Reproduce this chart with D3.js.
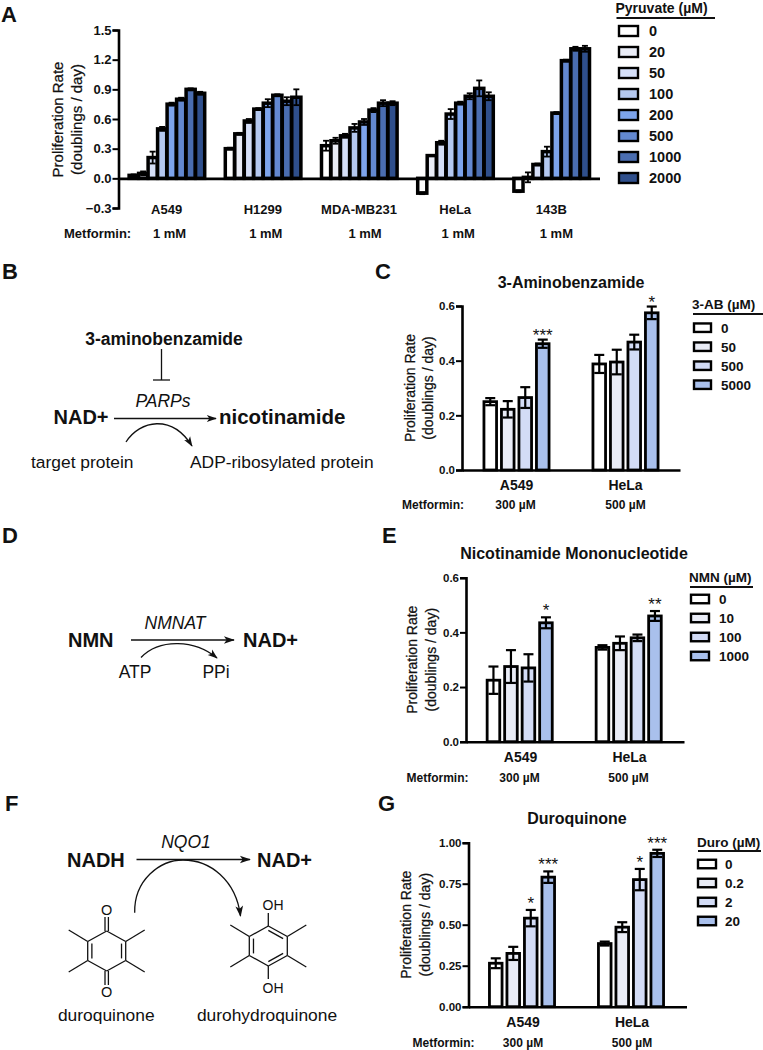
<!DOCTYPE html>
<html><head><meta charset="utf-8">
<script src="https://cdn.jsdelivr.net/npm/d3@7/dist/d3.min.js"></script>
<style>
html,body{margin:0;padding:0;background:#fff}
svg{display:block}
text{font-family:"Liberation Sans",Arial,sans-serif;fill:#111}
</style></head><body>
<svg id="c" width="763" height="1050"></svg>
<script>
// ---------- data ----------
const cellsA = ["A549","H1299","MDA-MB231","HeLa","143B"];
const pyruvate = ["0","20","50","100","200","500","1000","2000"];
const pyruvateColors = ["#ffffff","#e9ecf6","#d5dff8","#b4c8f0","#7da4ec","#6388d0","#4a6db0","#2f4f8c"];
const valuesA = [
  [0.03,0.05,0.21,0.50,0.75,0.80,0.90,0.86],
  [0.30,0.45,0.58,0.70,0.76,0.84,0.78,0.82],
  [0.33,0.38,0.43,0.51,0.57,0.69,0.76,0.76],
  [-0.15,0.23,0.36,0.65,0.76,0.83,0.91,0.83],
  [-0.13,0.01,0.14,0.27,0.66,1.19,1.31,1.31]];
const errorsA = [
  [0.01,0.02,0.06,0.02,0.015,0.015,0.01,0.015],
  [0.01,0.01,0.02,0.01,0.04,0.01,0.04,0.08],
  [0.05,0.03,0.02,0.04,0.03,0.02,0.03,0.02],
  [0.01,0.005,0.02,0.05,0.015,0.03,0.08,0.04],
  [0.01,0.05,0.01,0.05,0.01,0.01,0.02,0.03]];
const ticksA = [-0.3,0,0.3,0.6,0.9,1.2,1.5];
const metA = ["1 mM","1 mM","1 mM","1 mM","1 mM"];

const cells = ["A549","HeLa"];
const met = ["300 µM","500 µM"];
const fourColors = ["#ffffff","#e9ecf6","#d3dcf6","#a9c0ec"];

const doseC = ["0","50","500","5000"];
const valuesC = [[0.25,0.222,0.265,0.462],[0.388,0.395,0.468,0.575]];
const errorsC = [[0.013,0.03,0.038,0.015],[0.033,0.045,0.027,0.023]];
const starsC = [["","","","***"],["","","","*"]];
const ticksC = [0,0.2,0.4,0.6];

const doseE = ["0","10","100","1000"];
const valuesE = [[0.225,0.275,0.27,0.435],[0.345,0.36,0.38,0.46]];
const errorsE = [[0.05,0.06,0.05,0.02],[0.008,0.025,0.012,0.018]];
const starsE = [["","","","*"],["","","","**"]];
const ticksE = [0,0.2,0.4,0.6];

const doseG = ["0","0.2","2","20"];
const valuesG = [[0.265,0.325,0.54,0.79],[0.385,0.485,0.775,0.935]];
const errorsG = [[0.03,0.04,0.05,0.035],[0.012,0.03,0.065,0.022]];
const starsG = [["","","*","***"],["","","*","***"]];
const ticksG = [0,0.25,0.5,0.75,1];

// ---------- helpers ----------
const svg = d3.select("#c");
const defs = svg.append("defs");
function headMarker(id,s){
  defs.append("marker").attr("id",id).attr("viewBox","-1 -6 14 12")
    .attr("refX",11).attr("refY",0).attr("markerWidth",s*14/12).attr("markerHeight",s)
    .attr("markerUnits","userSpaceOnUse").attr("orient","auto")
    .append("path").attr("d","M0,-4.2 L12,0 L0,4.2 L3,0 Z").attr("fill","#111");
}
headMarker("h1",10); headMarker("h2",11);

function text(x,y,s,o={}){
  const t = svg.append("text").attr("x",x).attr("y",y).text(s)
    .attr("font-size",o.size||13).attr("font-weight",o.weight||"normal");
  if(o.anchor) t.attr("text-anchor",o.anchor);
  if(o.italic) t.attr("font-style","italic");
  return t;
}
const bold = (x,y,s,size,anchor)=>text(x,y,s,{size,weight:"bold",anchor});
function seg(x1,y1,x2,y2,w=1.3,marker){
  const l = svg.append("line").attr("x1",x1).attr("y1",y1).attr("x2",x2).attr("y2",y2)
    .attr("stroke","#111").attr("stroke-width",w);
  if(marker) l.attr("marker-end",`url(#${marker})`);
}
function curve(d,marker){
  svg.append("path").attr("d",d).attr("fill","none").attr("stroke","#111").attr("stroke-width",1.3)
    .attr("marker-end",`url(#${marker})`);
}

function panel(p){
  const y = d3.scaleLinear().domain(p.domain).range(p.yRange);
  const x0 = d3.scaleBand().domain(p.groups).range(p.xRange);
  const x1 = d3.scaleBand().domain(p.dose).range([-p.inner/2,p.inner/2]).paddingInner(p.padInner);
  const color = d3.scaleOrdinal().domain(p.dose).range(p.colors);
  const g = svg.append("g");

  // bars + error bars
  p.groups.forEach((grp,i)=>{
    const gg = g.append("g").attr("transform",`translate(${x0(grp)+x0.bandwidth()/2+p.nudge},0)`);
    const rows = p.dose.map((d,j)=>({d,v:p.values[i][j],e:p.errors[i][j],s:p.stars?p.stars[i][j]:""}));
    gg.selectAll("rect").data(rows).join("rect")
      .attr("x",d=>x1(d.d)).attr("width",x1.bandwidth())
      .attr("y",d=>y(Math.max(0,d.v))).attr("height",d=>Math.abs(y(d.v)-y(0)))
      .attr("fill",d=>color(d.d)).attr("stroke","#000").attr("stroke-width",p.barStroke);
    const cx = d=>x1(d.d)+x1.bandwidth()/2;
    const err = gg.selectAll("g.e").data(rows).join("g").attr("class","e")
      .attr("stroke","#000").attr("stroke-width",p.errStroke);
    err.append("line").attr("x1",cx).attr("x2",cx).attr("y1",d=>y(d.v-d.e)).attr("y2",d=>y(d.v+d.e));
    [-1,1].forEach(sign=>{
      err.append("line").attr("x1",d=>cx(d)-p.cap/2).attr("x2",d=>cx(d)+p.cap/2)
        .attr("y1",d=>y(d.v+sign*d.e)).attr("y2",d=>y(d.v+sign*d.e));
    });
    gg.selectAll("text.s").data(rows.filter(d=>d.s)).join("text").attr("class","s")
      .attr("x",cx).attr("y",d=>y(d.v+d.e)-p.starGap)
      .attr("text-anchor","middle").attr("font-size",17).text(d=>d.s);
  });

  // y axis
  const ya = d3.axisLeft(y).tickValues(p.ticks).tickFormat(d3.format(p.fmt)).tickSize(p.tick).tickPadding(1);
  const ay = svg.append("g").attr("transform",`translate(${p.xRange[0]},0)`).call(ya);
  ay.select(".domain").attr("stroke","#000").attr("stroke-width",p.axisStroke);
  ay.selectAll(".tick line").attr("stroke","#000").attr("stroke-width",2);
  ay.selectAll("text").attr("font-size",p.tickFont).attr("font-weight","bold")
    .attr("font-family","Liberation Sans").attr("fill","#111");

  // x axis at zero
  const xa = d3.axisBottom(x0).tickSize(0).tickPadding(p.xPad);
  const ax = svg.append("g").attr("transform",`translate(0,${y(0)})`).call(xa);
  ax.select(".domain").attr("stroke","#000").attr("stroke-width",p.axisStroke);
  ax.selectAll("text").attr("font-size",p.labelFont).attr("font-weight","bold")
    .attr("font-family","Liberation Sans").attr("fill","#111");

  // axis title
  const ty = (p.yRange[0]+p.yRange[1])/2 + p.titleShift;
  [["Proliferation Rate",p.titleX[0]],["(doublings / day)",p.titleX[1]]].forEach(([s,tx])=>{
    svg.append("text").attr("transform",`translate(${tx},${ty}) rotate(-90)`).attr("text-anchor","middle")
      .attr("font-size",p.titleFont).attr("stroke","#111").attr("stroke-width",0.25).text(s);
  });

  // metformin row
  bold(p.metX,p.metY,"Metformin:",p.metFont);
  p.metLabels.forEach((s,i)=>bold(x0(p.groups[i])+x0.bandwidth()/2+p.metShift[i],p.metY,s,p.metFont,"middle"));

  // legend
  const ly = d3.scalePoint().domain(p.dose).range(p.legendY);
  const [lx,lw,lh] = p.legendBox;
  bold(p.legTitleX,p.legTitleY,p.legTitle,p.legTitleFont||p.legFont);
  seg(p.legTitleX+1,p.legLineY,p.legLineEnd,p.legLineY,1.8);
  svg.append("g").selectAll("rect").data(p.dose).join("rect")
    .attr("x",lx).attr("y",d=>ly(d)-lh/2).attr("width",lw).attr("height",lh)
    .attr("fill",d=>color(d)).attr("stroke","#000").attr("stroke-width",p.legStroke);
  p.dose.forEach(d=>bold(p.legTextX,ly(d)+p.legFont*0.36,d,p.legFont));

  if(p.title) bold(p.titleCx,p.titleY,p.title,p.panelTitleFont,"middle");
}

// ---------- panels ----------
panel({groups:cellsA,dose:pyruvate,colors:pyruvateColors,values:valuesA,errors:errorsA,
  domain:[-0.3,1.5],yRange:[208,30],xRange:[118.5,599.5],inner:75.6,padInner:0.04,nudge:0.3,
  barStroke:3.5,errStroke:1.8,cap:6,ticks:ticksA,fmt:".1f",tick:6,axisStroke:2.6,tickFont:13,
  xPad:26,labelFont:13,titleShift:0.5,titleX:[63,82],titleFont:15,
  metX:64,metY:238,metFont:13,metLabels:metA,metShift:[3,3,6,3,5],
  legendY:[31,178],legendBox:[619,19,10],legTitle:"Pyruvate (µM)",legTitleX:615.5,legTitleY:13,legLineY:18,legLineEnd:715,
  legFont:14.5,legTitleFont:14,legStroke:2.4,legTextX:649});

panel({groups:cells,dose:doseC,colors:fourColors,values:valuesC,errors:errorsC,stars:starsC,starGap:-1,
  domain:[0,0.6],yRange:[470,306],xRange:[462,680],inner:65.1,padInner:0.28,nudge:0,
  barStroke:2.8,errStroke:2.2,cap:10,ticks:ticksC,fmt:".1f",tick:6,axisStroke:2.6,tickFont:11.5,
  xPad:10,labelFont:14,titleShift:0,titleX:[415,433],titleFont:14,
  metX:402,metY:509,metFont:12,metLabels:met,metShift:[-1,0],
  legendY:[327.7,384.7],legendBox:[694,17,8.5],legTitle:"3-AB (µM)",legTitleX:692,legTitleY:309,legLineY:314,legLineEnd:763,
  legFont:13.5,legStroke:2.4,legTextX:721,
  title:"3-Aminobenzamide",titleCx:571,titleY:288,panelTitleFont:16});

panel({groups:cells,dose:doseE,colors:fourColors,values:valuesE,errors:errorsE,stars:starsE,starGap:1,
  domain:[0,0.6],yRange:[741.7,577.7],xRange:[466,684],inner:65.1,padInner:0.28,nudge:-0.8,
  barStroke:2.8,errStroke:2.2,cap:10,ticks:ticksE,fmt:".1f",tick:6,axisStroke:2.6,tickFont:11.5,
  xPad:10,labelFont:14,titleShift:0,titleX:[416.5,435.5],titleFont:14,
  metX:406.5,metY:781.5,metFont:12,metLabels:met,metShift:[-1,-1],
  legendY:[599,656],legendBox:[691,18,8.5],legTitle:"NMN (µM)",legTitleX:689,legTitleY:581.5,legLineY:587,legLineEnd:753,
  legFont:13.5,legStroke:2.4,legTextX:719,
  title:"Nicotinamide Mononucleotide",titleCx:574,titleY:559,panelTitleFont:16});

panel({groups:cells,dose:doseG,colors:fourColors,values:valuesG,errors:errorsG,stars:starsG,starGap:1,
  domain:[0,1],yRange:[1006.7,842.7],xRange:[468.5,686.5],inner:65.1,padInner:0.28,nudge:-1,
  barStroke:2.8,errStroke:2.2,cap:10,ticks:ticksG,fmt:".2f",tick:6,axisStroke:2.6,tickFont:11.5,
  xPad:10,labelFont:14,titleShift:0,titleX:[411,429.5],titleFont:14,
  metX:412.5,metY:1046.5,metFont:12,metLabels:met,metShift:[0,0],
  legendY:[864,921],legendBox:[698,18,8.5],legTitle:"Duro (µM)",legTitleX:697,legTitleY:846.5,legLineY:851,legLineEnd:761,
  legFont:13.5,legStroke:2.4,legTextX:725,
  title:"Duroquinone",titleCx:577,titleY:824,panelTitleFont:16});

// ---------- panel letters ----------
[["A",1,22],["B",2,279],["C",375,279],["D",2,543],["E",382,543],["F",5,811],["G",378,811]]
  .forEach(([s,x,y])=>bold(x,y,s,22));

// ---------- schematic B ----------
bold(164,345,"3-aminobenzamide",17.5,"middle");
seg(161.5,349,161.5,380); seg(153,380,170,380);
text(163,406.5,"PARPs",{size:17.5,italic:true,anchor:"middle"});
bold(53.5,424,"NAD+",20);
seg(114,418.5,216,418.5,1.3,"h1");
bold(219,424,"nicotinamide",20.5);
curve("M126,442 C140,420 172,414 192,446","h1");
text(31,468,"target protein",{size:17.4});
text(190,468,"ADP-ribosylated protein",{size:17.4});

// ---------- schematic D ----------
bold(68,646.5,"NMN",20); bold(243,646.5,"NAD+",20);
text(175,629,"NMNAT",{size:17.5,italic:true,anchor:"middle"});
seg(131,640,234,640,1.3,"h2");
curve("M141,657.5 C160,638 195,640 217,658","h1");
text(135,678,"ATP",{size:17.5,anchor:"middle"});
text(216,678,"PPi",{size:17.5,anchor:"middle"});

// ---------- schematic F ----------
bold(67,866.5,"NADH",20); bold(257,866.5,"NAD+",20);
text(186,848,"NQO1",{size:17.5,italic:true,anchor:"middle"});
seg(136.5,859.5,250,859.5,1.3,"h2");
curve("M134.7,912.7 C134,880 160,860 183,860 C210,860 236,880 240.5,916","h2");

function ring(cx,cy,dbl){
  const hx=19, hy=9.5, v=20;
  const pts=[[0,-v],[hx,-hy],[hx,hy],[0,v],[-hx,hy],[-hx,-hy]];
  pts.forEach((p,i)=>{const q=pts[(i+1)%6];seg(cx+p[0],cy+p[1],cx+q[0],cy+q[1]);});
  dbl.forEach(i=>{
    const p=pts[i],q=pts[(i+1)%6], s=.78;
    seg(cx+p[0]*s,cy+p[1]*s,cx+q[0]*s,cy+q[1]*s);
  });
  [[-hx,-hy,-38,-21],[hx,-hy,38,-21],[-hx,hy,-38,21],[hx,hy,38,21]].forEach(m=>seg(cx+m[0],cy+m[1],cx+m[2],cy+m[3]));
}
// duroquinone
ring(106.7,951,[1,4]);
seg(105,931,105,917); seg(108.4,931,108.4,917);
seg(105,971,105,985); seg(108.4,971,108.4,985);
text(106.7,914.5,"O",{size:14.5,anchor:"middle"});
text(106.7,997,"O",{size:14.5,anchor:"middle"});
text(106.3,1021,"duroquinone",{size:17.4,anchor:"middle"});
// durohydroquinone
ring(268.3,946,[0,2,4]);
seg(268.3,926,268.3,913); seg(268.3,966,268.3,979);
text(273,910,"OH",{size:14,anchor:"middle"});
text(273,993,"OH",{size:14,anchor:"middle"});
text(267,1021,"durohydroquinone",{size:17.4,anchor:"middle"});
</script>
</body></html>
